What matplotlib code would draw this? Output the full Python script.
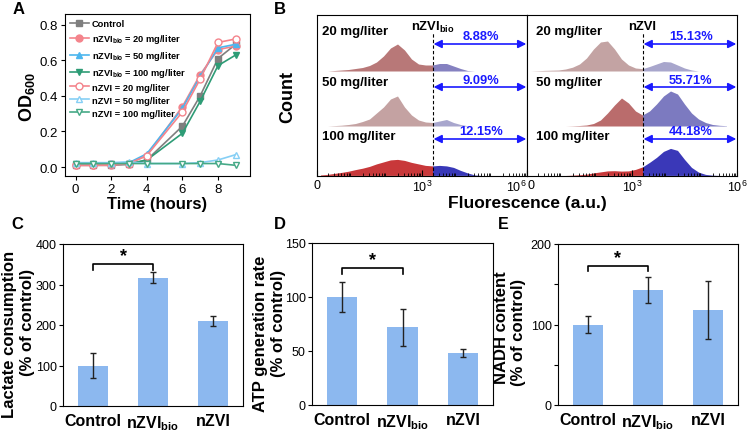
import matplotlib
matplotlib.use('Agg')
import matplotlib.pyplot as plt
import numpy as np

plt.rcParams['font.family'] = ['Liberation Sans', 'DejaVu Sans']
plt.rcParams['mathtext.fontset'] = 'custom'
plt.rcParams['mathtext.rm'] = 'Liberation Sans'
plt.rcParams['mathtext.bf'] = 'Liberation Sans:bold'
plt.rcParams['axes.linewidth'] = 0.8

# ---------------- data ----------------
# A: growth curves
hours = [0, 1, 2, 3, 4, 6, 7, 8, 9]
od_control = [0.01, 0.01, 0.01, 0.015, 0.04, 0.23, 0.40, 0.61, 0.69]
od_bio20 = [0.01, 0.01, 0.01, 0.02, 0.065, 0.34, 0.52, 0.66, 0.68]
od_bio50 = [0.02, 0.02, 0.02, 0.025, 0.075, 0.33, 0.51, 0.67, 0.69]
od_bio100 = [0.02, 0.02, 0.02, 0.02, 0.04, 0.19, 0.37, 0.57, 0.63]
od_n20 = [0.01, 0.01, 0.015, 0.02, 0.065, 0.31, 0.495, 0.70, 0.72]
od_n50 = [0.025, 0.025, 0.025, 0.03, 0.02, 0.02, 0.025, 0.04, 0.07]
od_n100 = [0.02, 0.02, 0.02, 0.02, 0.02, 0.02, 0.02, 0.02, 0.01]

# B: flow cytometry histograms (log10 fluorescence bin centres, counts in px-ish units)
bins = [0.1, 0.3, 0.5, 0.7, 0.9, 1.1, 1.3, 1.5, 1.7, 1.9, 2.1, 2.3, 2.5, 2.7, 2.9,
        3.1, 3.3, 3.5, 3.7, 3.9, 4.1, 4.3, 4.5, 4.7, 4.9, 5.1, 5.3, 5.5, 5.7]
gate = 3.3
hist_bio20 = [0, 0, 0.5, 1, 1.5, 2.5, 3.5, 5.5, 9, 15, 23, 27, 21, 12, 7,
              6, 6, 7.5, 7.5, 5, 2.5, 0.5, 0, 0, 0, 0, 0, 0, 0]
hist_bio50 = [0, 0, 0.4, 0.8, 1.5, 2.5, 4.5, 7, 13, 19, 27, 30, 19, 11, 6,
              4, 3.5, 5, 6.5, 3.5, 1.5, 0.3, 0, 0, 0, 0, 0, 0, 0]
hist_bio100 = [0.5, 1, 2, 3, 4.2, 5.8, 7.2, 9, 11.5, 13.5, 15.5, 16, 15, 13, 11.5,
               10, 9.5, 10, 9.5, 8, 5, 2.5, 0.5, 0, 0, 0, 0, 0, 0]
hist_n20 = [0, 0.3, 0.6, 0.8, 1, 2, 3.8, 7, 13, 22, 29, 30, 22, 12, 6,
            3, 2.3, 4.5, 7, 9.5, 9, 6, 3, 1, 0, 0, 0, 0, 0]
hist_n50 = [0, 0, 0, 0, 0, 0, 0.2, 0.5, 1, 2.5, 6, 13, 21, 28, 23,
            15, 11, 15, 22, 30, 35, 32, 22, 13, 7, 3.5, 1.5, 0.7, 0.3]
hist_n100 = [0, 0, 0, 0, 0, 0, 0.3, 0.7, 1.2, 2.5, 3.5, 4.5, 4.7, 4.3, 4.5,
             6, 8.5, 13, 18, 24, 27, 25, 16, 8, 3.3, 1, 0.3, 0, 0]
dose_labels = ['20 mg/liter', '50 mg/liter', '100 mg/liter']
pct_bio = ['8.88%', '9.09%', '12.15%']
pct_n = ['15.13%', '55.71%', '44.18%']

# C-E: bar charts
groups = ['Control', r'nZVI$_{\mathbf{bio}}$', 'nZVI']
lactate = [100, 317, 210]
lactate_err = [32, 13, 13]
atp = [100, 72, 48]
atp_err = [14, 17, 4]
nadh = [100, 143, 118]
nadh_err = [10, 16, 36]

# ---------------- figure ----------------
W, H = 748, 435
fig = plt.figure(figsize=(W / 100, H / 100), dpi=100)


def add_ax(l, t, r, b):
    return fig.add_axes([l / W, 1 - b / H, (r - l) / W, (b - t) / H])


def ftext(x, y, s, **kw):
    return fig.text(x / W, 1 - y / H, s, **kw)


# ----- Panel A -----
axA = add_ax(65, 15, 250, 177)
series = [
    ('Control', od_control, '#7f7f7f', 's', True),
    (r'nZVI$_{\mathbf{bio}}$ = 20 mg/liter', od_bio20, '#f4848c', 'o', True),
    (r'nZVI$_{\mathbf{bio}}$ = 50 mg/liter', od_bio50, '#4db6ee', '^', True),
    (r'nZVI$_{\mathbf{bio}}$ = 100 mg/liter', od_bio100, '#2e9c76', 'v', True),
    ('nZVI = 20 mg/liter', od_n20, '#f4848c', 'o', False),
    ('nZVI = 50 mg/liter', od_n50, '#86cff5', '^', False),
    ('nZVI = 100 mg/liter', od_n100, '#45a986', 'v', False),
]
for lab, vals, col, mk, filled in series:
    axA.plot(hours, vals, color=col, marker=mk, markersize=5, lw=1.2,
             markerfacecolor=col if filled else 'white', markeredgecolor=col,
             markeredgewidth=1.0, label=lab)
axA.set_xlim(-0.6, 9.8)
axA.set_ylim(-0.05, 0.86)
axA.set_xticks([0, 2, 4, 6, 8])
axA.set_yticks([0, 0.2, 0.4, 0.6, 0.8])
axA.set_yticklabels(['0.0', '0.2', '0.4', '0.6', '0.8'])
axA.tick_params(labelsize=9.5, length=3, width=0.8, pad=2)
axA.legend(loc='upper left', frameon=False, prop={'weight': 'bold', 'size': 6.7},
           handlelength=2, handletextpad=0.3, labelspacing=0.42,
           borderaxespad=0.3, borderpad=0.25)
ftext(27, 97, r'OD$_{\mathbf{600}}$', rotation=90, ha='center', va='center',
      fontsize=13, fontweight='bold')
ftext(157, 205, 'Time (hours)', ha='center', va='center', fontsize=12, fontweight='bold')
ftext(19, 9, 'A', ha='center', va='center', fontsize=12, fontweight='bold')

# ----- Panel B -----
minor = [np.log10(k * 10 ** n) for n in range(6) for k in range(2, 10)]
rows_base = [105, 50, 0.6]
arrow_y = [132, 89, 37]
label_y = [145, 94, 40]
bio_cols = [('#b87878', '#8581c0'), ('#c4a2a2', '#a8a6cd'), ('#c8383a', '#3838b8')]
n_cols = [('#c3a3a3', '#a8a6cc'), ('#ba6c6c', '#7c7ac0'), ('#c8383a', '#3a38b8')]

halves = [
    (317, 527, [hist_bio20, hist_bio50, hist_bio100], bio_cols, pct_bio, r'nZVI$_{\mathbf{bio}}$', 0.15),
    (527, 737, [hist_n20, hist_n50, hist_n100], n_cols, pct_n, 'nZVI', 0.25),
]
xs = np.array(bins)
for i, (l, r, hists, cols, pcts, title, lab_x) in enumerate(halves):
    ax = add_ax(l, 16, r, 177)
    ax.set_xlim(0, 6)
    ax.set_ylim(0, 161)
    for h, base, (cr, cb), ay, ly, lab, pct in zip(hists, rows_base, cols, arrow_y,
                                                  label_y, dose_labels, pcts):
        h = np.array(h)
        mr = xs <= gate
        mb = xs >= gate
        ax.fill_between(xs[mr], base, base + h[mr], color=cr, lw=0)
        ax.fill_between(xs[mb], base, base + h[mb], color=cb, lw=0)
        ax.annotate('', xy=(5.98, ay), xytext=(gate + 0.03, ay),
                    arrowprops=dict(arrowstyle='<|-|>', color='#1a1aff', lw=1.2,
                                    mutation_scale=12, shrinkA=0, shrinkB=0))
        ax.text(4.68, ay + 1.5, pct, ha='center', va='bottom', fontsize=9.3,
                fontweight='bold', color='#1a1aff')
        ax.text(lab_x, ly, lab, ha='left', va='center', fontsize=9.5, fontweight='bold')
    ax.plot([gate, gate], [0, 144], ls=(0, (3, 2)), color='black', lw=0.8)
    ax.text(3.3, 150, title, ha='center', va='center', fontsize=9.4, fontweight='bold')
    ax.set_yticks([])
    ax.set_xticks([0, 3, 6])
    ax.set_xticklabels(['0', r'10$^3$', r'10$^6$'])
    ax.set_xticks(minor, minor=True)
    ax.tick_params(axis='x', which='major', direction='in', length=4, width=0.8,
                   labelsize=9, pad=2)
    ax.tick_params(axis='x', which='minor', direction='in', length=2, width=0.6)
    tl = ax.get_xticklabels()
    if i == 0:
        tl[2].set_ha('right')
    else:
        tl[0].set_ha('left')

ftext(288, 97, 'Count', rotation=90, ha='center', va='center', fontsize=13, fontweight='bold')
ftext(527, 203.5, 'Fluorescence (a.u.)', ha='center', va='center', fontsize=12.5,
      fontweight='bold')
ftext(280, 9, 'B', ha='center', va='center', fontsize=12, fontweight='bold')


# ----- Panels C-E -----
def bar_panel(ax, vals, errs, ymax, step, br_y, br_drop, star_y):
    x = np.arange(len(groups))
    ax.bar(x, vals, width=0.5, color='#8cb8ef', zorder=2)
    ax.errorbar(x, vals, yerr=errs, fmt='none', ecolor='#222222', elinewidth=1.0,
                capsize=2.5, capthick=1.0, zorder=3)
    ax.plot([0, 0, 1, 1], [br_y - br_drop, br_y, br_y, br_y - br_drop],
            color='black', lw=1.2)
    ax.text(0.5, star_y, '*', ha='center', va='center', fontsize=13, fontweight='bold')
    ax.set_xlim(-0.5, 2.5)
    ax.set_ylim(0, ymax)
    ax.set_yticks(np.arange(0, ymax + 1, step))
    ax.set_xticks(x)
    ax.set_xticklabels(groups, fontsize=11.5, fontweight='bold')
    ax.tick_params(axis='y', labelsize=9, length=3, width=0.8, pad=1.5)
    ax.tick_params(axis='x', length=0, pad=5)


axC = add_ax(63, 245, 243, 407)
bar_panel(axC, lactate, lactate_err, 400, 100, 350, 13, 372)
axD = add_ax(312, 244, 493, 406)
bar_panel(axD, atp, atp_err, 150, 50, 126.5, 5, 135)
axE = add_ax(558, 245, 738, 406)
bar_panel(axE, nadh, nadh_err, 200, 100, 173, 6, 183)
axE.set_yticks([0, 50, 100, 150, 200])
axE.set_yticklabels(['0', '', '100', '', '200'])

for x1, x2, y1, y2, line1 in [(10, 28, 334, 322, 'Lactate consumption'),
                              (260, 278, 334, 323, 'ATP generation rate'),
                              (501, 519, 328, 332, 'NADH content')]:
    ftext(x1, y1, line1, rotation=90, ha='center', va='center', fontsize=12,
          fontweight='bold')
    ftext(x2, y2, '(% of control)', rotation=90, ha='center', va='center', fontsize=12,
          fontweight='bold')

ftext(17, 225, 'C', ha='center', va='center', fontsize=12, fontweight='bold')
ftext(280, 225, 'D', ha='center', va='center', fontsize=12, fontweight='bold')
ftext(503, 224.5, 'E', ha='center', va='center', fontsize=11.5, fontweight='bold')

fig.savefig('out.png', dpi=100)
plt.close(fig)
